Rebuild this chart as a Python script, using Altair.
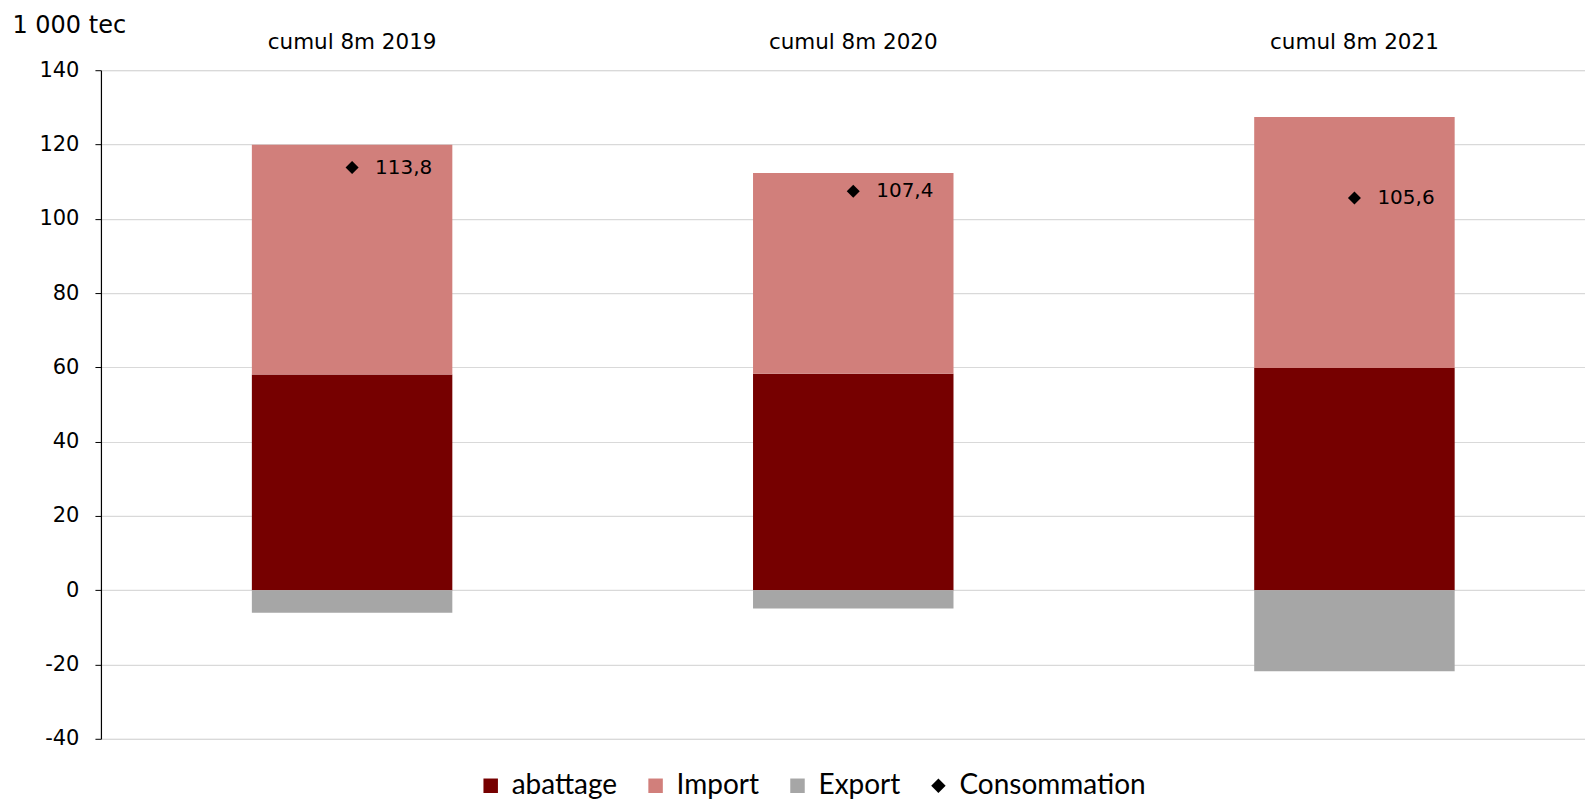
import altair as alt
import pandas as pd

categories = ["cumul 8m 2019", "cumul 8m 2020", "cumul 8m 2021"]
abattage = [58.1, 58.3, 59.8]
imports = [61.8, 54.0, 67.6]
exports = [-6.1, -4.9, -21.8]
consommation = [113.8, 107.4, 105.6]
series = ["abattage", "Import", "Export", "Consommation"]
colors = ["#760000", "#D17F7B", "#A6A6A6", "#000000"]
shapes = ["square", "square", "square", "diamond"]
y_ticks = [-40, -20, 0, 20, 40, 60, 80, 100, 120, 140]

rows = []
for i, c in enumerate(categories):
    rows.append({"cat": c, "serie": "abattage", "value": abattage[i], "ord": 0})
    rows.append({"cat": c, "serie": "Import", "value": imports[i], "ord": 1})
    rows.append({"cat": c, "serie": "Export", "value": exports[i], "ord": 2})
bars_df = pd.DataFrame(rows)

cons_df = pd.DataFrame({
    "cat": categories,
    "serie": ["Consommation"] * 3,
    "value": consommation,
    "label": [f"{v:.1f}".replace(".", ",") for v in consommation],
})

FONT = "DejaVu Sans"
LEGEND_FONT = "Lato"

W = 1485
H = 669

x_enc = alt.X(
    "cat:N",
    sort=categories,
    scale=alt.Scale(paddingInner=0.6, paddingOuter=0.2806, align=0.5366),
    axis=alt.Axis(orient="top", title=None, domain=False, ticks=False, grid=False,
                  labelFontSize=21.5, labelFont=FONT, labelColor="#000000",
                  labelPadding=17, labelAngle=0),
)

y_scale = alt.Scale(domain=[-40, 140], nice=False, zero=False)

color_enc = alt.Color(
    "serie:N",
    scale=alt.Scale(domain=series, range=colors),
    legend=alt.Legend(
        title=None, orient="none", direction="horizontal",
        legendX=376, legendY=702,
        labelFont=LEGEND_FONT, labelFontSize=28, labelColor="#000000", labelLimit=0,
        symbolSize=210, symbolStrokeWidth=0, symbolOpacity=1,
        labelOffset=7, columnPadding=24, padding=0,
    ),
)

bars = alt.Chart(bars_df).mark_bar().encode(
    x=x_enc,
    y=alt.Y(
        "value:Q",
        scale=y_scale,
        stack="zero",
        axis=alt.Axis(
            values=y_ticks, labelExpr="datum.value + ''",
            title="1 000 tec", titleAngle=0, titleAlign="left",
            titleBaseline="middle", titleX=-89, titleY=-45,
            titleFont=FONT, titleFontSize=24, titleFontWeight="normal", titleColor="#000000",
            labelFont=FONT, labelFontSize=21, labelColor="#000000", labelPadding=16,
            tickSize=6, tickColor="#000000", domainColor="#000000", domainWidth=1.2,
            gridColor="#D9D9D9", gridWidth=1.2,
        ),
    ),
    color=color_enc,
    order=alt.Order("ord:Q"),
)

points = alt.Chart(cons_df).mark_point(filled=True, size=170, opacity=1).encode(
    x=alt.X("cat:N", sort=categories),
    y=alt.Y("value:Q", scale=y_scale),
    color=color_enc,
    shape=alt.Shape("serie:N", scale=alt.Scale(domain=series, range=shapes), legend=None),
)

labels = alt.Chart(cons_df).mark_text(
    align="left", baseline="middle", dx=23, fontSize=20, font=FONT, color="#000000"
).encode(
    x=alt.X("cat:N", sort=categories),
    y=alt.Y("value:Q", scale=y_scale),
    text="label:N",
)

chart = alt.layer(bars, points, labels).properties(
    width=W, height=H,
    autosize=alt.AutoSizeParams(type="none"),
    padding={"left": 93, "top": 62, "right": 0, "bottom": 64},
).configure_view(stroke=None).configure(background="white")

chart.save("out.html", embed_options={"renderer": "svg", "actions": False})
